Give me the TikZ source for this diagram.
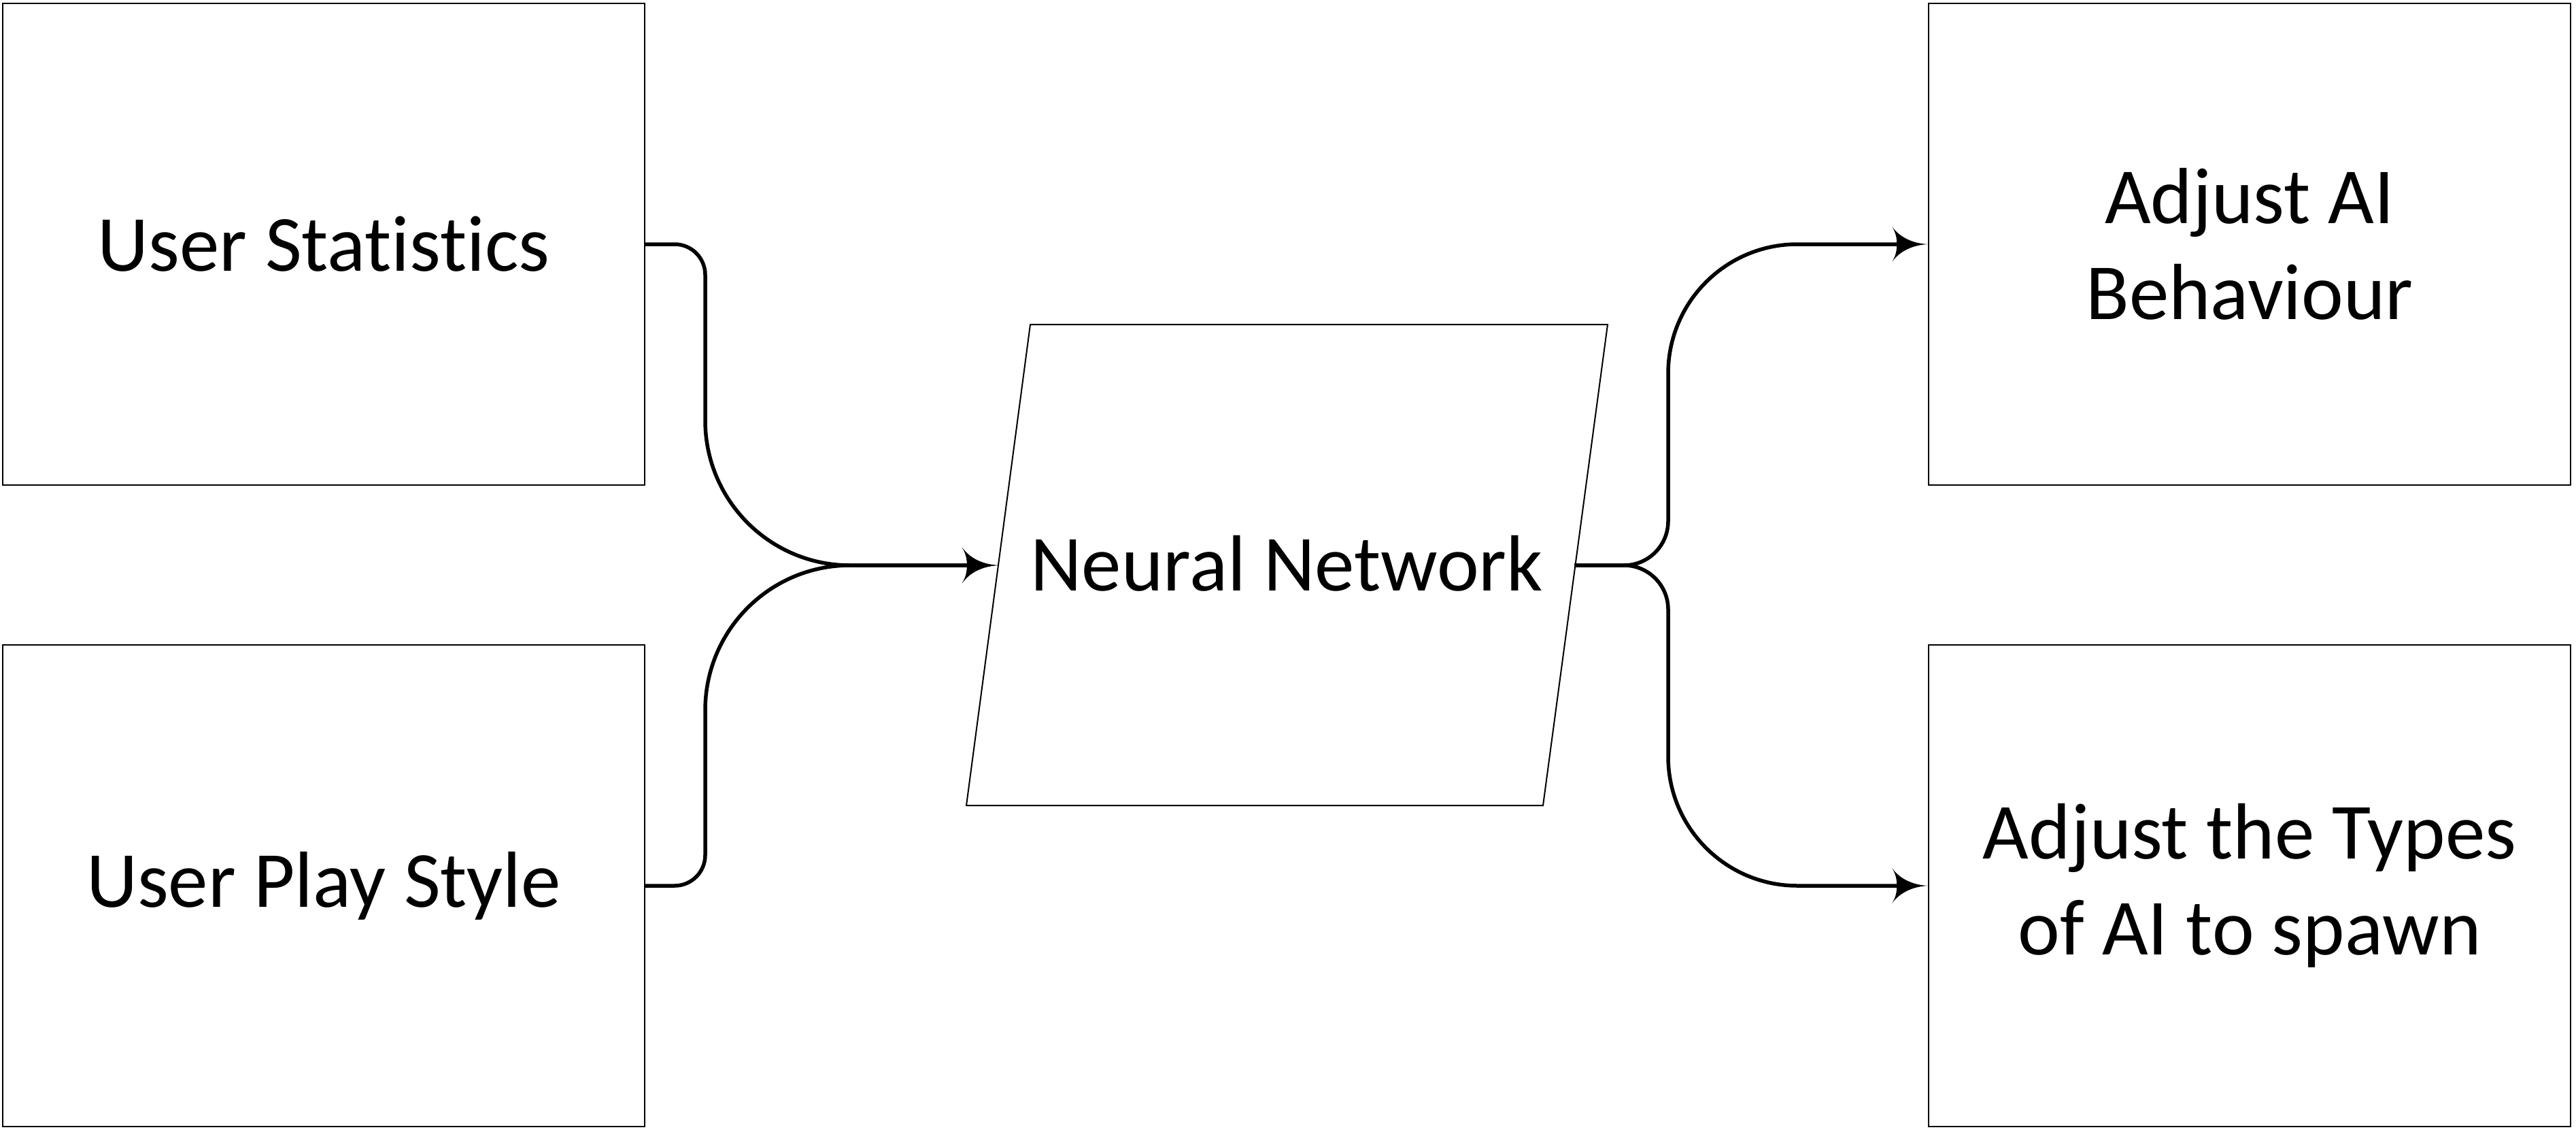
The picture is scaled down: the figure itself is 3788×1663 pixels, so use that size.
\documentclass[tikz,border=0pt]{standalone}
\usepackage{fontspec}
\setmainfont[Ligatures=NoCommon]{Carlito}
\usetikzlibrary{arrows.meta}
\pgfdeclarearrow{
  name = Curvy,
  setup code = {
    \pgfarrowssettipend{0pt}
    \pgfarrowssetlineend{-40pt}
    \pgfarrowsupperhullpoint{0pt}{0pt}
    \pgfarrowsupperhullpoint{-53pt}{26pt}
  },
  drawing code = {
    \pgfpathmoveto{\pgfpoint{0pt}{0pt}}
    \pgfpathcurveto{\pgfpoint{-22pt}{1pt}}{\pgfpoint{-42pt}{10pt}}{\pgfpoint{-53pt}{26pt}}
    \pgfpathcurveto{\pgfpoint{-47pt}{16pt}}{\pgfpoint{-46pt}{8pt}}{\pgfpoint{-46pt}{0pt}}
    \pgfpathcurveto{\pgfpoint{-46pt}{-8pt}}{\pgfpoint{-47pt}{-16pt}}{\pgfpoint{-53pt}{-26pt}}
    \pgfpathcurveto{\pgfpoint{-42pt}{-10pt}}{\pgfpoint{-22pt}{-1pt}}{\pgfpoint{0pt}{0pt}}
    \pgfpathclose
    \pgfusepathqfill
  }
}
\tikzset{
  box/.style={draw, line width=1.5pt, minimum width=944pt, minimum height=708pt,
    inner sep=0pt, align=center, font=\fontsize{117}{141}\selectfont},
  conn/.style={line width=5.5pt, -{Curvy}},
}
\begin{document}
\begin{tikzpicture}[x=1pt,y=1pt]
\useasboundingbox (0,0) rectangle (3788,-1663);
\node[box] (b1) at (476,-359) {User Statistics};
\node[box] (b2) at (476,-1302) {User Play Style};
\node[box] (b3) at (3308,-359) {Adjust AI\\Behaviour};
\node[box] (b4) at (3308,-1302) {Adjust the Types\\of AI to spawn};
\draw[line width=2pt, line join=miter] (1515,-477) -- (2364,-477) -- (2269,-1184) -- (1421,-1184) -- cycle;
\node[inner sep=0pt, font=\fontsize{117}{141}\selectfont] (nn) at (1892,-828) {Neural Network};
\coordinate (nnin) at (1468,-831);
\coordinate (nnout) at (2315,-831);
\draw[conn] (b1.east) -- (992,-359) arc[start angle=90, end angle=0, radius=45]
  -- (1037,-618) arc[start angle=180, end angle=270, radius=213] -- (nnin);
\draw[conn] (b2.east) -- (992,-1302) arc[start angle=-90, end angle=0, radius=45]
  -- (1037,-1044) arc[start angle=180, end angle=90, radius=213] -- (nnin);
\draw[conn] (nnout) -- (2388,-831) arc[start angle=-90, end angle=0, radius=65]
  -- (2453,-549) arc[start angle=180, end angle=90, radius=190] -- (b3.west);
\draw[conn] (nnout) -- (2388,-831) arc[start angle=90, end angle=0, radius=65]
  -- (2453,-1112) arc[start angle=180, end angle=270, radius=190] -- (b4.west);
\end{tikzpicture}
\end{document}
